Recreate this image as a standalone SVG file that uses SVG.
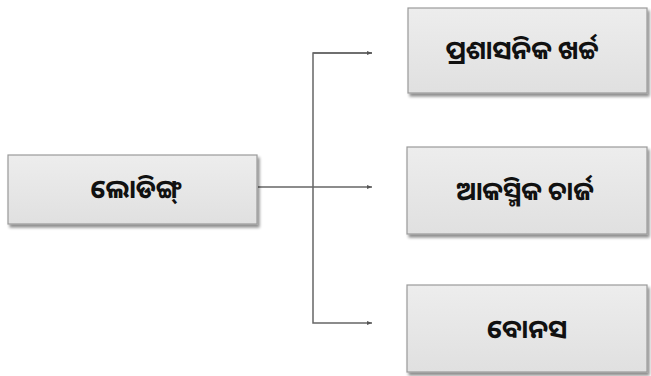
<svg xmlns="http://www.w3.org/2000/svg" width="651" height="376" viewBox="0 0 651 376">
<defs>
<linearGradient id="g" x1="0" y1="0" x2="0" y2="1">
<stop offset="0" stop-color="#ededed"/>
<stop offset="1" stop-color="#e0e0e0"/>
</linearGradient>
<filter id="sh" x="-5%" y="-5%" width="115%" height="120%">
<feGaussianBlur in="SourceAlpha" stdDeviation="1.5"/>
<feOffset dx="2" dy="3"/>
<feComponentTransfer><feFuncA type="linear" slope="0.45"/></feComponentTransfer>
<feMerge><feMergeNode/><feMergeNode in="SourceGraphic"/></feMerge>
</filter>
<marker id="ah" markerWidth="6" markerHeight="6" refX="5" refY="3" orient="auto" markerUnits="userSpaceOnUse">
<path d="M0,1 L5,3 L0,5 Z" fill="#555"/>
</marker>
</defs>
<style>
.box{fill:url(#g);stroke:#9a9a9a;stroke-width:1.2;filter:url(#sh)}
.t{font-family:"Noto Sans Oriya","Noto Sans","DejaVu Sans",sans-serif;font-size:26px;font-weight:bold;fill:#111;text-anchor:middle;dominant-baseline:central}
.c{fill:none;stroke:#666;stroke-width:1.5}
</style>
<rect width="651" height="376" fill="#fff"/>
<g id="connectors">
<path class="c" d="M258,187 H372" marker-end="url(#ah)"/>
<path class="c" d="M372,53 H313 V323 H372" marker-end="url(#ah)"/>
<path class="c" d="M313,53 H372" marker-end="url(#ah)"/>
</g>
<g id="loading">
<rect class="box" x="8" y="155" width="249" height="69"/>
<text class="t" x="136" y="188">ଲୋଡିଙ୍ଗ୍</text>
</g>
<g id="admin">
<rect class="box" x="408" y="8" width="239" height="85"/>
<text class="t" x="522" y="49">ପ୍ରଶାସନିକ ଖର୍ଚ୍ଚ</text>
</g>
<g id="contingency">
<rect class="box" x="407" y="147" width="240" height="87"/>
<text class="t" x="525" y="190">ଆକସ୍ମିକ ଚାର୍ଜ</text>
</g>
<g id="bonus">
<rect class="box" x="407" y="285" width="240" height="87"/>
<text class="t" x="527" y="328">ବୋନସ</text>
</g>
</svg>
